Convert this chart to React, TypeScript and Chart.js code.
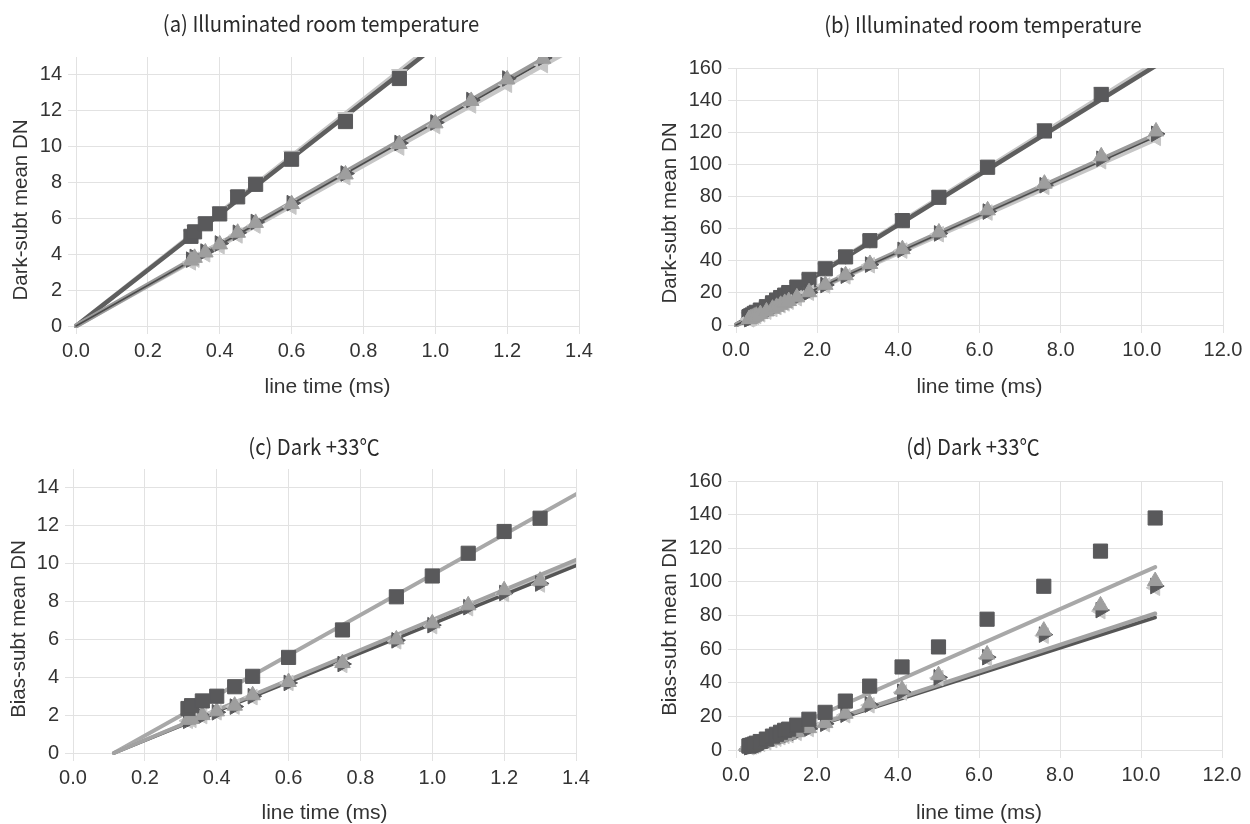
import React, { useEffect, useRef } from 'react';
import { Chart, registerables } from 'chart.js';

Chart.register(...registerables);

// ---------- data ----------
const lineTimes = [0.32, 0.33, 0.36, 0.40, 0.45, 0.50, 0.60, 0.75, 0.90, 1.00, 1.10, 1.20, 1.30, 1.50, 1.80, 2.20, 2.70, 3.30, 4.10, 5.00, 6.20, 7.60, 9.00, 10.35];

// Illuminated, room temperature (dark-subtracted mean DN)
const illumSquare = [5.0, 5.25, 5.7, 6.25, 7.2, 7.9, 9.3, 11.4, 13.8, 15.5, 17.1, 18.6, 20.2, 23.6, 28.4, 35.0, 42.4, 52.5, 65.0, 79.5, 98.2, 120.8, 143.5, null];
const illumDown = [5.1, 5.35, 5.8, 6.4, 7.3, 8.05, 9.5, 11.65, 14.05, 15.8, 17.4, 19.0, 20.6, 24.0, 28.9, 35.5, 43.2, 53.3, 66.2, 80.8, 99.8, 122.6, 145.2, null];
const illumUp = [3.65, 3.8, 4.1, 4.55, 5.2, 5.75, 6.8, 8.45, 10.15, 11.3, 12.55, 13.75, 14.9, 17.2, 20.4, 25.0, 31.0, 38.0, 47.2, 57.6, 71.4, 88.0, 105.0, 120.5];
const illumRight = [3.7, 3.85, 4.15, 4.6, 5.2, 5.8, 6.85, 8.5, 10.2, 11.35, 12.6, 13.8, 14.95, 17.1, 20.3, 24.9, 30.7, 37.6, 46.8, 57.0, 70.6, 87.0, 103.5, 119.0];
const illumLeft = [3.55, 3.7, 4.0, 4.45, 5.05, 5.6, 6.65, 8.3, 9.95, 11.15, 12.3, 13.45, 14.55, 16.7, 20.1, 24.6, 30.3, 37.2, 46.3, 56.5, 70.0, 86.0, 102.0, 116.5];

// Illuminated trend lines (x endpoints, y endpoints)
const illumFitX = [0, 10.35];
const illumSquareFit = [0, 161.5];
const illumDownFit = [0, 163.5];
const illumUpFit = [0, 118.4];
const illumRightFit = [0, 117.3];
const illumLeftFit = [0, 115.7];

// Dark +33C (bias-subtracted mean DN)
const darkSquare = [2.35, 2.5, 2.75, 3.0, 3.5, 4.05, 5.05, 6.5, 8.25, 9.35, 10.55, 11.7, 12.4, 14.8, 18.3, 22.4, 29.1, 38.0, 49.4, 61.3, 77.8, 97.4, 118.3, 138.0];
const darkUp = [1.75, 1.8, 2.0, 2.2, 2.5, 3.05, 3.75, 4.75, 6.0, 6.85, 7.8, 8.6, 9.1, 10.6, 13.0, 16.0, 21.6, 27.8, 36.0, 44.5, 56.8, 71.0, 86.0, 100.5];
const darkRight = [1.7, 1.8, 1.95, 2.15, 2.45, 3.0, 3.7, 4.7, 5.95, 6.75, 7.7, 8.45, 8.95, 10.3, 12.6, 15.6, 21.0, 27.0, 34.6, 43.2, 55.2, 68.6, 83.2, 97.5];
const darkLeft = [1.7, 1.75, 1.95, 2.15, 2.45, 2.95, 3.7, 4.65, 5.9, 6.7, 7.65, 8.4, 8.9, 10.2, 12.5, 15.4, 20.7, 26.6, 34.2, 42.8, 54.6, 68.0, 82.6, 96.5];

const darkFitX = [0.114, 10.35];
const darkSquareFit = [0, 108.8];
const darkUpFit = [0, 81.2];
const darkRightFit = [0, 78.8];
const darkLeftFit = [0, 80.4];

// axis ticks
const shortTimeTicks = { min: 0, max: 1.4, step: 0.2 };
const longTimeTicks = { min: 0, max: 12, step: 2 };
const smallDnTicks = { min: 0, max: 15, step: 2 };
const largeDnTicks = { min: 0, max: 160, step: 20 };

const titles = [
  '(a) Illuminated room temperature',
  '(b) Illuminated room temperature',
  '(c) Dark +33\u2103',
  '(d) Dark +33\u2103',
];
const yTitles = ['Dark-subt mean DN', 'Dark-subt mean DN', 'Bias-subt mean DN', 'Bias-subt mean DN'];
const xTitle = 'line time (ms)';

// ---------- styles ----------
const C_DARK = '#59595b';
const C_MID = '#9e9e9e';
const C_LIGHT = '#c6c6c6';
const GRID = '#e2e2e2';
const TEXT = '#333333';
const TRI = 9;
const SQ = 10;

function pts(xs: number[], ys: (number | null)[]) {
  const out: { x: number; y: number }[] = [];
  xs.forEach((x, i) => {
    const y = ys[i];
    if (y !== null && y !== undefined) out.push({ x, y });
  });
  return out;
}

function markerDs(ys: (number | null)[], style: string, rot: number, color: string, radius: number, order: number) {
  return {
    data: pts(lineTimes, ys),
    pointStyle: style,
    pointRotation: rot,
    pointRadius: radius,
    pointBackgroundColor: color,
    pointBorderColor: color,
    pointBorderWidth: 1,
    showLine: false,
    order,
    clip: { left: 12, right: 12, top: 0, bottom: 12 },
  };
}

function lineDs(xs: number[], ys: number[], color: string, width: number, order: number) {
  return {
    data: pts(xs, ys),
    showLine: true,
    pointRadius: 0,
    borderColor: color,
    borderWidth: width,
    borderCapStyle: 'round',
    fill: false,
    order,
    clip: { left: 2, right: 0, top: 0, bottom: 2 },
  };
}

function illumDatasets() {
  return [
    lineDs(illumFitX, illumDownFit, C_LIGHT, 4.5, 15),
    lineDs(illumFitX, illumSquareFit, '#5e5e5e', 4.5, 14),
    lineDs(illumFitX, illumLeftFit, C_LIGHT, 4.5, 13),
    lineDs(illumFitX, illumUpFit, '#9a9a9a', 5, 12),
    lineDs(illumFitX, illumRightFit, '#4a4a4a', 1.5, 11),
    markerDs(illumDown, 'triangle', 180, C_LIGHT, TRI, 6),
    markerDs(illumSquare, 'rect', 0, C_DARK, SQ, 5),
    markerDs(illumLeft, 'triangle', -90, C_LIGHT, TRI, 4),
    markerDs(illumRight, 'triangle', 90, C_DARK, TRI, 3),
    markerDs(illumUp, 'triangle', 0, C_MID, TRI, 2),
  ];
}

function darkDatasets() {
  return [
    lineDs(darkFitX, darkSquareFit, '#a8a8a8', 4, 15),
    lineDs(darkFitX, darkLeftFit, C_LIGHT, 4, 14),
    lineDs(darkFitX, darkRightFit, '#555555', 3.5, 13),
    lineDs(darkFitX, darkUpFit, '#a2a2a2', 4, 12),
    markerDs(darkLeft, 'triangle', -90, C_LIGHT, TRI, 6),
    markerDs(darkRight, 'triangle', 90, C_DARK, TRI, 5),
    markerDs(darkUp, 'triangle', 0, C_MID, TRI, 4),
    markerDs(darkSquare, 'rect', 0, C_DARK, SQ, 3),
  ];
}

type Spec = {
  left: number; top: number; w: number; h: number;
  pad: { left: number; right: number; top: number; bottom: number };
  wy: number; hx: number;
  xr: { min: number; max: number; step: number };
  yr: { min: number; max: number; step: number };
  group: 'illum' | 'dark';
};

const specs: Spec[] = [
  { left: 0, top: 0, w: 625, h: 412, pad: { left: 0, right: 46, top: 57, bottom: 12.4 }, wy: 76, hx: 73.6, xr: shortTimeTicks, yr: smallDnTicks, group: 'illum' },
  { left: 625, top: 0, w: 625, h: 412, pad: { left: 0, right: 27, top: 68, bottom: 12.4 }, wy: 111, hx: 74.6, xr: longTimeTicks, yr: largeDnTicks, group: 'illum' },
  { left: 0, top: 412, w: 625, h: 416, pad: { left: 0, right: 49, top: 57, bottom: 2.4 }, wy: 73, hx: 72.6, xr: shortTimeTicks, yr: smallDnTicks, group: 'dark' },
  { left: 625, top: 412, w: 625, h: 416, pad: { left: 0, right: 28, top: 69, bottom: 2.4 }, wy: 111, hx: 75.6, xr: longTimeTicks, yr: largeDnTicks, group: 'dark' },
];

const titlePos = [
  { x: 321, y: 22 },
  { x: 983, y: 23 },
  { x: 314, y: 445 },
  { x: 973, y: 445 },
];
const yTitlePos = [
  { x: 20, y: 210 },
  { x: 669, y: 213 },
  { x: 18, y: 629 },
  { x: 669, y: 627 },
];

function buildConfig(spec: Spec): any {
  const tickFont = { family: "'Liberation Sans', Arial, sans-serif", size: 20 };
  return {
    type: 'scatter',
    data: { datasets: spec.group === 'illum' ? illumDatasets() : darkDatasets() },
    options: {
      animation: false,
      responsive: false,
      maintainAspectRatio: false,
      events: [],
      layout: { padding: spec.pad },
      plugins: { legend: { display: false }, tooltip: { enabled: false }, title: { display: false } },
      scales: {
        x: {
          type: 'linear',
          min: spec.xr.min,
          max: spec.xr.max,
          afterFit: (s: any) => { s.height = spec.hx; },
          ticks: {
            stepSize: spec.xr.step,
            autoSkip: false,
            maxRotation: 0,
            padding: 5,
            color: TEXT,
            font: tickFont,
            callback: (v: any) => Number(v).toFixed(1),
          },
          grid: { color: GRID, tickColor: GRID, tickLength: 8, lineWidth: 1 },
          border: { color: GRID, width: 1 },
          title: {
            display: true,
            text: xTitle,
            color: TEXT,
            padding: { top: 0, bottom: 0 },
            font: { family: "'Liberation Sans', Arial, sans-serif", size: 21 },
          },
        },
        y: {
          type: 'linear',
          min: spec.yr.min,
          max: spec.yr.max,
          afterFit: (s: any) => { s.width = spec.wy; },
          ticks: {
            stepSize: spec.yr.step,
            includeBounds: false,
            padding: 6,
            color: TEXT,
            font: tickFont,
            callback: (v: any) => String(Math.round(Number(v))),
          },
          grid: { color: GRID, tickColor: GRID, tickLength: 8, lineWidth: 1 },
          border: { color: GRID, width: 1 },
          title: { display: false },
        },
      },
    },
  };
}

function Panel({ spec }: { spec: Spec }) {
  const ref = useRef<HTMLCanvasElement | null>(null);
  useEffect(() => {
    if (!ref.current) return;
    const chart = new Chart(ref.current, buildConfig(spec));
    return () => chart.destroy();
  }, [spec]);
  return (
    <canvas
      ref={ref}
      width={spec.w}
      height={spec.h}
      style={{ position: 'absolute', left: spec.left, top: spec.top, width: spec.w, height: spec.h }}
    />
  );
}

export default function App() {
  return (
    <div style={{ position: 'absolute', left: 0, top: 0, width: 1250, height: 824, overflow: 'hidden', background: '#ffffff' }}>
      {specs.map((s, i) => (
        <Panel key={i} spec={s} />
      ))}
      {titles.map((t, i) => (
        <div
          key={'t' + i}
          style={{
            position: 'absolute',
            left: titlePos[i].x,
            top: titlePos[i].y,
            transform: 'translate(-50%, -50%) scaleX(0.92)',
            whiteSpace: 'nowrap',
            lineHeight: 1,
            fontFamily: "'Noto Sans CJK KR', 'Noto Sans', sans-serif",
            fontSize: 22,
            color: '#2a2a2a',
          }}
        >
          {t}
        </div>
      ))}
      {yTitles.map((t, i) => (
        <div
          key={'y' + i}
          style={{
            position: 'absolute',
            left: yTitlePos[i].x,
            top: yTitlePos[i].y,
            transform: 'translate(-50%, -50%) rotate(-90deg)',
            whiteSpace: 'nowrap',
            lineHeight: 1,
            fontFamily: "'Liberation Sans', Arial, sans-serif",
            fontSize: 20.5,
            color: TEXT,
          }}
        >
          {t}
        </div>
      ))}
    </div>
  );
}
